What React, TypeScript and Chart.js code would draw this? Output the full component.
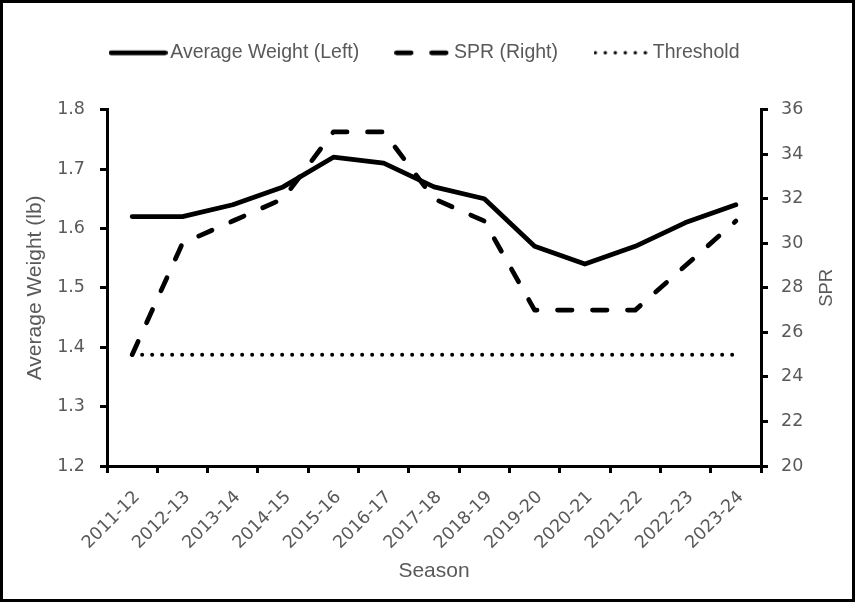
import React, { useEffect, useRef } from 'react';
import { Chart, registerables } from 'chart.js';

Chart.register(...registerables);

// ---- data ----
const seasons = [
  '2011-12', '2012-13', '2013-14', '2014-15', '2015-16', '2016-17', '2017-18',
  '2018-19', '2019-20', '2020-21', '2021-22', '2022-23', '2023-24',
];
const averageWeight = [1.62, 1.62, 1.64, 1.67, 1.72, 1.71, 1.67, 1.65, 1.57, 1.54, 1.57, 1.61, 1.64];
const sprValues = [25, 30, 31, 32, 35, 35, 32, 31, 27, 27, 27, 29, 31];
const thresholdValues = [25, 25, 25, 25, 25, 25, 25, 25, 25, 25, 25, 25, 25];

const seriesNames = ['Average Weight (Left)', 'SPR (Right)', 'Threshold'];
const leftAxisRange = [1.2, 1.8];
const leftAxisStep = 0.1;
const rightAxisRange = [20, 36];
const rightAxisStep = 2;
const leftAxisTitle = 'Average Weight (lb)';
const rightAxisTitle = 'SPR';
const xAxisTitle = 'Season';

// ---- styles ----
const FONT = "'Liberation Sans', Arial, sans-serif";
const TICK_FONT = "'DejaVu Sans', sans-serif";
const TEXT = '#595959';
const CANVAS_W = 849;
const CANVAS_H = 596;

function makeSample(width: number, lineWidth: number, dash: number[]) {
  const c = document.createElement('canvas');
  c.width = width;
  c.height = 10;
  const ctx = c.getContext('2d')!;
  ctx.strokeStyle = '#000';
  ctx.lineWidth = lineWidth;
  ctx.lineCap = 'round';
  ctx.setLineDash(dash);
  ctx.beginPath();
  ctx.moveTo(lineWidth / 2, 5);
  ctx.lineTo(width - lineWidth / 2, 5);
  ctx.stroke();
  return c;
}

const rightTitlePlugin = {
  id: 'rightTitle',
  afterDraw(chart: any) {
    const { ctx, chartArea } = chart;
    const s = chart.scales.y1;
    ctx.save();
    ctx.translate(s.right - 25, (chartArea.top + chartArea.bottom) / 2);
    ctx.rotate(-Math.PI / 2);
    ctx.font = `18.5px ${FONT}`;
    ctx.fillStyle = TEXT;
    ctx.textAlign = 'center';
    ctx.textBaseline = 'middle';
    ctx.fillText(rightAxisTitle, 0, 0);
    ctx.restore();
  },
};

export default function App() {
  const ref = useRef<HTMLCanvasElement>(null);

  useEffect(() => {
    const samples = [
      makeSample(59, 4.75, []),
      makeSample(55, 4.75, [14.5, 20.5]),
      makeSample(54, 3.5, [0, 10]),
    ];
    const axisGrid = {
      drawOnChartArea: false,
      drawTicks: true,
      tickLength: 7,
      color: '#000',
      lineWidth: 3,
    };
    const axisBorder = { display: true, color: '#000', width: 3 };
    const chart = new Chart(ref.current!, {
      type: 'line',
      data: {
        labels: seasons,
        datasets: [
          {
            label: seriesNames[0],
            data: averageWeight,
            yAxisID: 'y',
            borderColor: '#000',
            backgroundColor: '#000',
            borderWidth: 4.75,
            borderCapStyle: 'round',
            borderJoinStyle: 'round',
            pointRadius: 0,
            tension: 0,
          },
          {
            label: seriesNames[1],
            data: sprValues,
            yAxisID: 'y1',
            borderColor: '#000',
            backgroundColor: '#000',
            borderWidth: 4.75,
            borderDash: [14.5, 20.5],
            borderCapStyle: 'round',
            borderJoinStyle: 'round',
            pointRadius: 0,
            tension: 0,
          },
          {
            label: seriesNames[2],
            data: thresholdValues,
            yAxisID: 'y1',
            borderColor: '#000',
            backgroundColor: '#000',
            borderWidth: 4,
            borderDash: [0, 10],
            borderCapStyle: 'round',
            pointRadius: 0,
            tension: 0,
          },
        ],
      },
      options: {
        animation: false,
        responsive: false,
        devicePixelRatio: 1,
        layout: { padding: 0 },
        plugins: {
          legend: {
            display: true,
            position: 'top',
            labels: {
              usePointStyle: true,
              pointStyleWidth: 45,
              padding: 40,
              color: TEXT,
              font: { family: FONT, size: 19.5 },
              generateLabels: (c: any) => {
                const items = (Chart.defaults.plugins.legend.labels as any).generateLabels(c);
                return items.map((it: any, i: number) => ({ ...it, pointStyle: samples[i], fontColor: TEXT }));
              },
            },
          },
          title: {
            display: true,
            text: '',
            weight: 500,
            font: { size: 1 },
            padding: { top: 0, bottom: 36 },
          } as any,
          tooltip: { enabled: false },
        },
        scales: {
          x: {
            type: 'category',
            offset: true,
            grid: { ...axisGrid, offset: true },
            border: axisBorder,
            ticks: {
              color: TEXT,
              font: { family: TICK_FONT, size: 17.5 },
              minRotation: 45,
              maxRotation: 45,
              autoSkip: false,
              padding: 14,
              labelOffset: 5,
            },
            title: {
              display: true,
              text: xAxisTitle,
              color: TEXT,
              font: { family: FONT, size: 21 },
              padding: { top: 0, bottom: 15 },
            },
            afterFit: (s: any) => {
              s.height = 133;
            },
          },
          y: {
            position: 'left',
            min: leftAxisRange[0],
            max: leftAxisRange[1],
            grid: axisGrid,
            border: axisBorder,
            ticks: {
              stepSize: leftAxisStep,
              color: TEXT,
              font: { family: TICK_FONT, size: 17.5 },
              padding: 15,
              callback: (v: any) => Number(v).toFixed(1),
            },
            title: {
              display: true,
              text: leftAxisTitle,
              color: TEXT,
              font: { family: FONT, size: 21 },
              padding: { top: 20, bottom: 0 },
            },
            afterFit: (s: any) => {
              s.width = 104;
            },
          },
          y1: {
            position: 'right',
            min: rightAxisRange[0],
            max: rightAxisRange[1],
            grid: axisGrid,
            border: axisBorder,
            ticks: {
              stepSize: rightAxisStep,
              color: TEXT,
              font: { family: TICK_FONT, size: 17.5 },
              padding: 13,
            },
            title: { display: false },
            afterFit: (s: any) => {
              s.width = 91;
            },
          },
        },
      },
      plugins: [rightTitlePlugin],
    } as any);
    return () => chart.destroy();
  }, []);

  return (
    <div
      style={{
        position: 'fixed',
        left: 0,
        top: 0,
        width: 855,
        height: 602,
        boxSizing: 'border-box',
        border: '3px solid #000',
        background: '#fff',
      }}
    >
      <canvas ref={ref} width={CANVAS_W} height={CANVAS_H} style={{ display: 'block' }} />
    </div>
  );
}
